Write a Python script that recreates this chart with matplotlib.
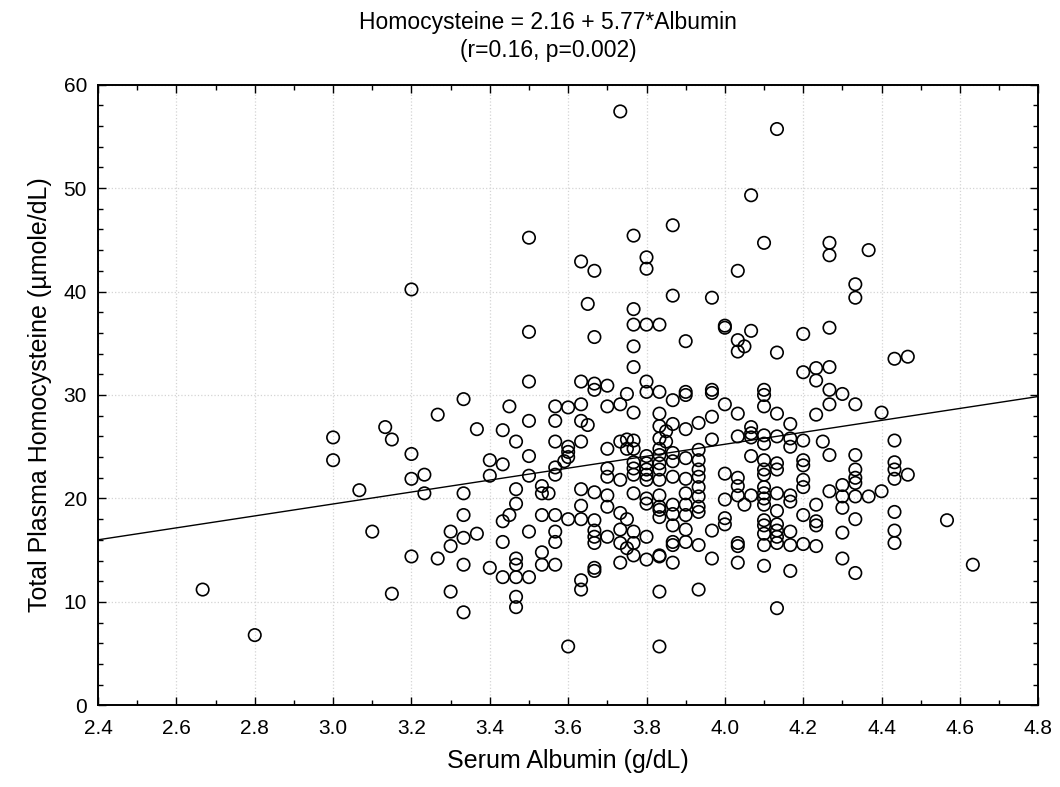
import matplotlib
matplotlib.use("Agg")
import matplotlib.pyplot as plt
import numpy as np
from matplotlib.ticker import MultipleLocator

plt.rcParams["font.family"] = ["Liberation Sans", "DejaVu Sans"]

# serum albumin levels (g/dL) and the homocysteine values seen at each level
albumin_levels = [
    2.667, 2.8, 3.0, 3.067, 3.1, 3.133, 3.15, 3.2, 3.233, 3.267, 3.3, 3.333, 3.367,
    3.4, 3.433, 3.45, 3.467, 3.5, 3.533, 3.55, 3.567, 3.59, 3.6, 3.633, 3.65, 3.667,
    3.7, 3.733, 3.75, 3.767, 3.8, 3.833, 3.85, 3.867, 3.9, 3.933, 3.967, 4.0, 4.033,
    4.05, 4.067, 4.1, 4.133, 4.167, 4.2, 4.233, 4.25, 4.267, 4.3, 4.333, 4.367, 4.4,
    4.433, 4.467, 4.567, 4.633,
]
homocysteine_by_level = [
    [11.2], [6.8], [25.9, 23.7], [20.8], [16.8], [26.9], [25.7, 10.8],
    [40.2, 24.3, 21.9, 14.4], [22.3, 20.5], [28.1, 14.2], [16.8, 15.4, 11.0],
    [29.6, 20.5, 18.4, 16.2, 13.6, 9.0], [26.7, 16.6],
    [23.7, 22.2, 13.3], [26.6, 23.3, 17.8, 15.8, 12.4], [28.9, 18.4],
    [25.5, 20.9, 19.5, 14.2, 13.6, 12.4, 10.5, 9.5],
    [45.2, 36.1, 31.3, 27.5, 24.1, 22.2, 16.8, 12.4],
    [21.2, 20.5, 18.4, 14.8, 13.6], [20.5],
    [28.9, 27.5, 25.5, 23.0, 22.3, 18.4, 16.8, 15.8, 13.6], [23.6],
    [28.8, 25.0, 24.5, 24.0, 18.0, 5.7],
    [42.9, 31.3, 29.1, 27.5, 25.5, 20.9, 19.3, 18.0, 12.1, 11.2], [38.8, 27.1],
    [42.0, 35.6, 31.1, 30.5, 20.6, 17.9, 16.9, 16.3, 15.7, 13.3, 13.0],
    [30.9, 28.9, 24.8, 22.9, 22.1, 20.3, 19.2, 16.3],
    [57.4, 29.1, 25.5, 21.8, 18.6, 17.0, 15.7, 13.8],
    [30.1, 25.7, 24.8, 18.0, 15.2],
    [45.4, 38.3, 36.8, 34.7, 32.7, 28.3, 25.6, 24.8, 23.5, 22.9, 22.3, 20.5, 16.8, 15.7, 14.5],
    [43.3, 42.2, 36.8, 31.3, 30.3, 24.1, 23.4, 22.8, 22.3, 21.8, 20.0, 19.5, 16.3, 14.1],
    [36.8, 30.3, 28.2, 27.0, 25.8, 24.8, 24.2, 23.4, 22.8, 21.8, 20.3, 19.2, 18.9, 18.2,
     14.5, 14.4, 11.0, 5.7],
    [26.5, 25.5],
    [46.4, 39.6, 29.5, 27.2, 24.4, 23.6, 22.1, 19.4, 18.5, 17.4, 15.8, 15.5, 13.8],
    [35.2, 30.3, 30.0, 26.7, 23.9, 21.9, 20.5, 19.4, 18.4, 17.0, 15.8],
    [27.3, 24.7, 23.7, 22.8, 22.1, 21.1, 20.2, 19.2, 18.7, 15.5, 11.2],
    [39.4, 30.5, 30.2, 27.9, 25.7, 16.9, 14.2],
    [36.7, 36.5, 29.1, 22.4, 19.9, 18.1, 17.5],
    [42.0, 35.3, 34.2, 28.2, 26.0, 22.0, 21.2, 20.3, 15.7, 15.4, 13.8],
    [34.7, 19.4],
    [49.3, 36.2, 26.9, 26.3, 25.9, 24.1, 20.3],
    [44.7, 30.5, 30.0, 28.9, 26.1, 25.3, 23.7, 22.8, 22.3, 21.1, 20.5, 20.0, 19.4, 17.9,
     17.4, 16.6, 15.5, 13.5],
    [55.7, 34.1, 28.2, 26.0, 23.4, 22.8, 20.5, 18.8, 17.5, 16.9, 16.3, 15.7, 9.4],
    [27.2, 25.8, 25.0, 20.3, 19.7, 16.8, 15.5, 13.0],
    [35.9, 32.2, 25.6, 23.7, 23.2, 21.8, 21.1, 18.4, 15.6],
    [32.6, 31.4, 28.1, 19.4, 17.8, 17.4, 15.4],
    [25.5],
    [44.7, 43.5, 36.5, 32.7, 30.5, 29.1, 24.2, 20.7],
    [30.1, 21.3, 20.2, 19.1, 16.7, 14.2],
    [40.7, 39.4, 29.1, 24.2, 22.8, 22.0, 21.5, 20.2, 18.0, 12.8],
    [44.0, 20.2], [28.3, 20.7],
    [33.5, 25.6, 23.5, 22.8, 21.9, 18.7, 16.9, 15.7],
    [33.7, 22.3], [17.9], [13.6],
]

# fitted regression line from the title
intercept = 2.16
slope = 5.77

albumin = np.concatenate([[a] * len(v) for a, v in zip(albumin_levels, homocysteine_by_level)])
homocysteine = np.concatenate(homocysteine_by_level)

fig = plt.figure(figsize=(10.6, 7.87), dpi=100)
ax = fig.add_axes([0.0925, 0.1036, 0.887, 0.789])

ax.grid(True, which="major", color="#d4d4d4", linestyle=":", linewidth=0.9)
ax.set_axisbelow(True)

ax.scatter(albumin, homocysteine, s=80, facecolors="none", edgecolors="black",
           linewidths=1.2, zorder=3)

xs = np.array([2.4, 4.8])
ax.plot(xs, intercept + slope * xs, color="black", linewidth=1.0, zorder=2)

ax.set_xlim(2.4, 4.8)
ax.set_ylim(0, 60)
ax.xaxis.set_major_locator(MultipleLocator(0.2))
ax.xaxis.set_minor_locator(MultipleLocator(0.1))
ax.yaxis.set_major_locator(MultipleLocator(10))
ax.yaxis.set_minor_locator(MultipleLocator(2))
ax.xaxis.set_major_formatter(plt.FormatStrFormatter("%.1f"))
ax.tick_params(which="both", direction="in", top=True, right=True, labelsize=15)
ax.tick_params(which="major", length=6, width=1)
ax.tick_params(which="minor", length=3.5, width=1)
ax.tick_params(axis="x", pad=10)
ax.tick_params(axis="y", pad=8)
for sp in ax.spines.values():
    sp.set_linewidth(1.4)

ax.set_xlabel("Serum Albumin (g/dL)", fontsize=18, labelpad=8)
ax.set_ylabel("Total Plasma Homocysteine (\u00b5mole/dL)", fontsize=18, labelpad=8)
fig.text(548 / 1060, 1 - 22 / 787, "Homocysteine = %.2f + %.2f*Albumin" % (intercept, slope),
         ha="center", va="center", fontsize=16.5)
fig.text(548 / 1060, 1 - 50 / 787, "(r=0.16, p=0.002)", ha="center", va="center", fontsize=16.5)

fig.savefig("out.png", dpi=100)
